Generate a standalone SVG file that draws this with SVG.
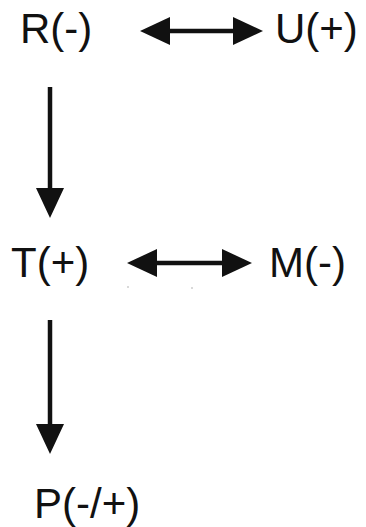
<svg xmlns="http://www.w3.org/2000/svg" width="366" height="527" viewBox="0 0 366 527">
  <style>
    .lbl { font-family: "Liberation Sans", Arial, sans-serif; font-size: 42px; fill: #111; }
    .edge { stroke: #111; stroke-width: 4.5; fill: none; }
  </style>
  <defs>
    <marker id="head" viewBox="0 0 30 28" refX="0" refY="14" markerWidth="30" markerHeight="28" markerUnits="userSpaceOnUse" orient="auto-start-reverse">
      <path d="M0,0 L30,14 L0,28 z" fill="#111"/>
    </marker>
  </defs>
  <rect width="366" height="527" fill="#fff"/>
  <g id="connectors">
    <line class="edge" x1="170" y1="31" x2="233" y2="31" marker-start="url(#head)" marker-end="url(#head)"/>
    <line class="edge" x1="157" y1="263" x2="222" y2="263" marker-start="url(#head)" marker-end="url(#head)"/>
    <line class="edge" x1="50" y1="87" x2="50" y2="188" marker-end="url(#head)"/>
    <line class="edge" x1="50" y1="320" x2="50" y2="424" marker-end="url(#head)"/>
    <circle cx="128" cy="287" r="1" fill="#ccc"/>
    <circle cx="192" cy="288" r="1" fill="#ccc"/>
  </g>
  <g id="node-R"><text class="lbl" x="20" y="43">R(-)</text></g>
  <g id="node-U"><text class="lbl" x="275" y="43">U(+)</text></g>
  <g id="node-T"><text class="lbl" x="11" y="277">T(+)</text></g>
  <g id="node-M"><text class="lbl" x="269" y="277">M(-)</text></g>
  <g id="node-P"><text class="lbl" x="34" y="518">P(-/+)</text></g>
</svg>
